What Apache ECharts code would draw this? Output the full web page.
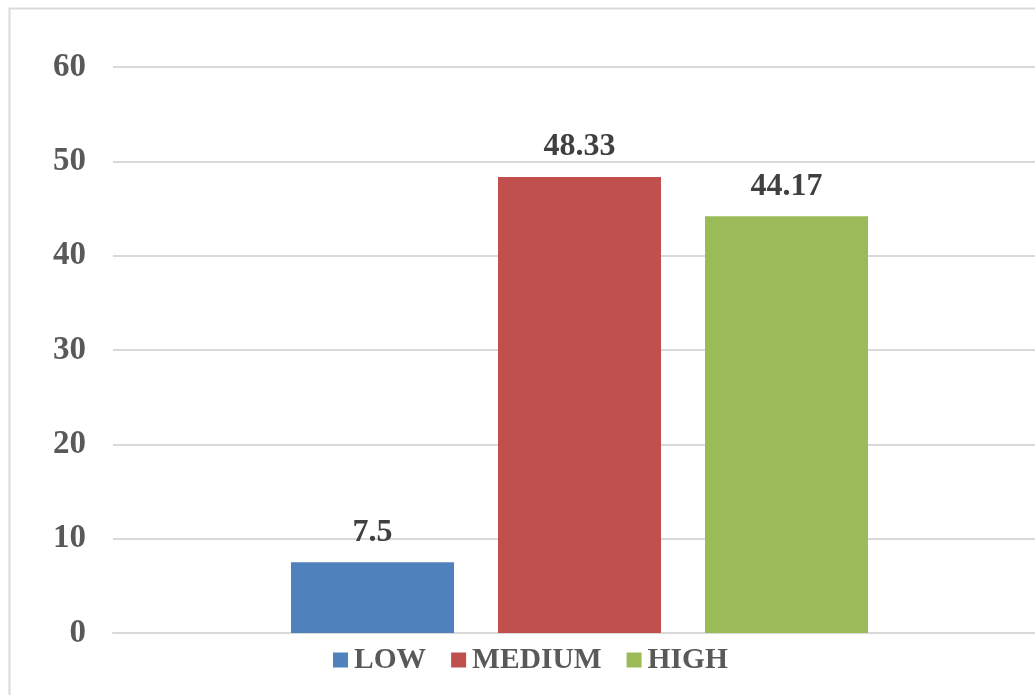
<!DOCTYPE html>
<html>
<head>
<meta charset="utf-8">
<script src="https://cdn.jsdelivr.net/npm/echarts@6/dist/echarts.min.js"></script>
<style>
  html, body { margin: 0; padding: 0; background: #ffffff; overflow: hidden; }
  #chart { width: 1060px; height: 695px; }
</style>
</head>
<body>
<div id="chart"></div>
<script>
// Single category group with three level series
const categories = [''];
const seriesNames = ['LOW', 'MEDIUM', 'HIGH'];
const seriesValues = [[7.5], [48.33], [44.17]];
const seriesColors = ['#4f81bd', '#c0504d', '#9bbb59'];
const yTicks = { min: 0, max: 60, interval: 10 };

const FONT = '"Liberation Serif", "Times New Roman", serif';

const chart = echarts.init(document.getElementById('chart'), null, { renderer: 'canvas' });

const series = seriesNames.map((name, i) => ({
  name: name,
  type: 'bar',
  data: seriesValues[i],
  barWidth: 163,
  barGap: '27%',
  itemStyle: { color: seriesColors[i] },
  label: {
    show: true,
    position: 'top',
    distance: 14,
    color: '#404040',
    fontFamily: FONT,
    fontWeight: 'bold',
    fontSize: 32
  }
}));

chart.setOption({
  animation: false,
  backgroundColor: '#ffffff',
  graphic: [{
    type: 'rect',
    left: 7,
    top: 6,
    shape: { width: 1100, height: 800 },
    style: { fill: 'none', stroke: '#d9d9d9', lineWidth: 2 },
    silent: true,
    z: -10
  }],
  grid: { left: 113, top: 67, width: 933, height: 566, containLabel: false },
  legend: {
    data: seriesNames,
    left: 333,
    top: 645,
    padding: 0,
    itemWidth: 15,
    itemHeight: 15,
    itemGap: 25,
    icon: 'rect',
    textStyle: {
      color: '#595959',
      fontFamily: FONT,
      fontWeight: 'bold',
      fontSize: 29.5,
      padding: [0, 0, 0, 1]
    }
  },
  xAxis: {
    type: 'category',
    data: categories,
    axisLine: { show: true, lineStyle: { color: '#d9d9d9', width: 2 } },
    axisTick: { show: false },
    axisLabel: { show: false }
  },
  yAxis: {
    type: 'value',
    min: yTicks.min,
    max: yTicks.max,
    interval: yTicks.interval,
    axisLine: { show: false },
    axisTick: { show: false },
    splitLine: { lineStyle: { color: '#d9d9d9', width: 2 } },
    axisLabel: {
      margin: 27,
      color: '#595959',
      fontFamily: FONT,
      fontWeight: 'bold',
      fontSize: 33
    }
  },
  series: series
});
</script>
</body>
</html>
